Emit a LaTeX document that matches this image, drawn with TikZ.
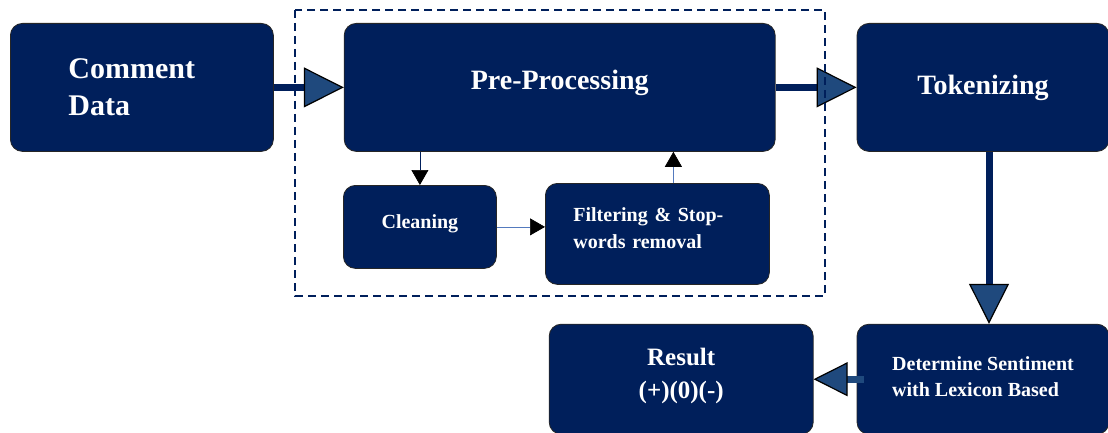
\documentclass[tikz,border=0pt]{standalone}
\usepackage{fontspec}
\setmainfont{Liberation Serif}
\usetikzlibrary{arrows.meta,positioning}
\definecolor{navy}{RGB}{0,31,91}
\definecolor{tipblue}{RGB}{31,73,125}
\definecolor{thinblue}{RGB}{84,122,190}
\tikzset{
    %Define style for boxes
    kasse/.style={
           rectangle,
           rounded corners=12pt,
           fill=navy,
           draw=black!85, line width=0.8pt,
           text=white,
           font=\bfseries,
           inner sep=0pt},
    % Define thick block arrow
    tykkpil/.style={
           draw=navy,
           line width=7pt,
           -{Triangle[length=#1,width=#1,fill=tipblue,color=black,line width=1.2pt]}},
    tykkpil/.default=40pt,
    % Define thin arrow with black head
    tynnpil/.style={
           draw=thinblue,
           line width=0.7pt,
           -{Triangle[length=15pt,width=17pt,fill=black,color=black]}},
    % dashed frame
    ramme/.style={
           draw=navy,
           line width=1.2pt,
           dash pattern=on 8pt off 5pt}
}

\begin{document}
\begin{tikzpicture}[x=1pt,y=-1pt]
\useasboundingbox (0,0) rectangle (1108,433);
 %nodes
\node[kasse, anchor=north west, minimum width=263pt, minimum height=128pt,
      text width=147pt, align=left, font=\fontsize{30}{37}\selectfont\bfseries]
      (1) at (10,23) {Comment\\Data};
\node[kasse, right=70pt of 1, minimum width=431pt, minimum height=128pt,
      text depth=16pt, font=\fontsize{28}{34}\selectfont\bfseries] (2) {Pre-Processing};
\node[kasse, right=81pt of 2, minimum width=252pt, minimum height=128pt,
      font=\fontsize{28}{34}\selectfont\bfseries] (3) {Tokenizing};
\node[kasse, anchor=north west, minimum width=153pt, minimum height=83pt,
      text depth=10pt, font=\fontsize{20}{27}\selectfont\bfseries] (4) at (343,185) {Cleaning};
\node[kasse, anchor=north west, minimum width=224pt, minimum height=101pt,
      text width=168pt, align=left, text depth=39pt,
      font=\fontsize{20}{27}\selectfont\bfseries]
      (5) at (545,183) {Filtering \& Stop-\\words removal};
\node[kasse, below=172pt of 3, minimum width=252pt, minimum height=110pt,
      align=left, text depth=5.5pt, font=\fontsize{20}{26}\selectfont\bfseries]
      (6) {Determine Sentiment\\with Lexicon Based};
\node[kasse, left=43pt of 6, minimum width=264pt, minimum height=110pt,
      align=center, text depth=11pt, font=\fontsize{25}{33}\selectfont\bfseries]
      (7) {Result\\(+)(0)(-)};

 %arrows
\path[tykkpil]
    (1) edge (2)
    (2) edge (3);
\draw[tykkpil] ([xshift=6pt]3.south) -- ([xshift=6pt]6.north);
\draw[tykkpil=34pt, draw=tipblue] ([xshift=7pt]6.west) -- (7.east);

\draw[tynnpil, draw=navy] (2.south -| 4.north) -- (4.north);
\draw[tynnpil] (4.east) -- (4.east -| 5.west);
\draw[tynnpil] ([xshift=16pt]5.north) -- ([xshift=16pt]5.north |- 2.south);

\draw[ramme] (295,10) rectangle (825,296);
\end{tikzpicture}
\end{document}
